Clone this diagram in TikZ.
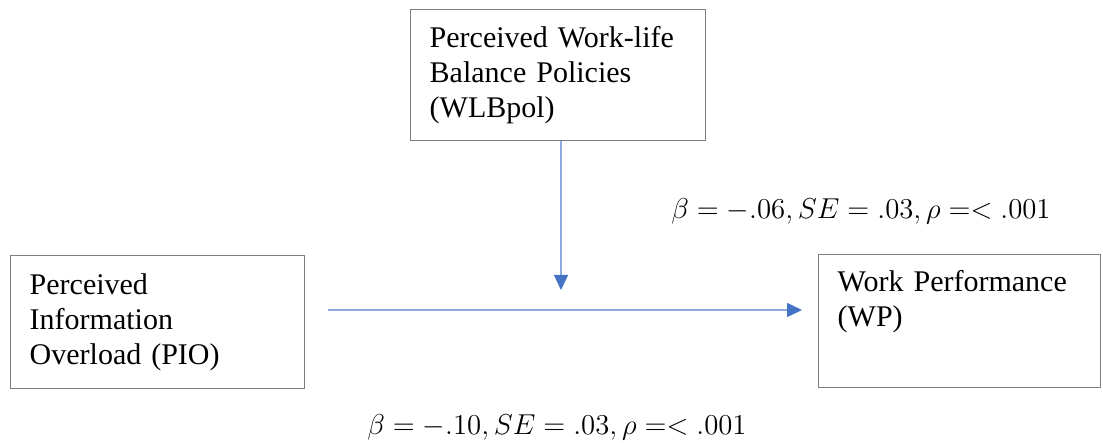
\documentclass[tikz,border=0pt]{standalone}
\usepackage{fontspec}
\setmainfont{Liberation Serif}
\usepackage{tikz}
\usetikzlibrary{arrows.meta}
\definecolor{arrowblue}{HTML}{4472C4}
\definecolor{linkblue}{HTML}{8FAADC}
\definecolor{boxline}{HTML}{7F7F7F}

\tikzset{
    box/.style={draw=boxline, line width=0.7pt, anchor=north west, align=left,
          inner xsep=9.5pt, inner ysep=0pt, font=\fontsize{15}{17.5}\selectfont},
    stat/.style={inner sep=0pt, font=\fontsize{15}{18}\selectfont},
    link/.style={draw=linkblue, line width=0.7pt,
          -{Triangle[length=7.5pt,width=7pt,color=arrowblue]}}
}

\begin{document}
\begin{tikzpicture}[x=0.5pt, y=-0.5pt]
    \useasboundingbox (0,0) rectangle (1103,443);

    \node[box, text width=128.5pt, minimum height=65.5pt] (wlb) at (410,9)
        {Perceived Work-life\\Balance Policies\\(WLBpol)};
    \node[box, text width=128pt, minimum height=66.5pt] (pio) at (10,255)
        {Perceived\\Information\\Overload (PIO)};
    \node[box, text width=122pt, minimum height=66.5pt] (wp) at (818,254)
        {Work Performance\\(WP)\\\strut};

    \coordinate (pioout) at (328,310);
    \coordinate (wpin) at (802,310);
    \coordinate (modpt) at (561,290);

    \draw[link] (pioout) -- (wpin);
    \draw[link] (wlb.south -| modpt) -- (modpt);

    \node[stat] (modstat) at (861,211) {$\beta = -.06, SE = .03, \rho =< .001$};
    \node[stat] (mainstat) at (557,427) {$\beta = -.10, SE = .03, \rho =< .001$};
\end{tikzpicture}
\end{document}
